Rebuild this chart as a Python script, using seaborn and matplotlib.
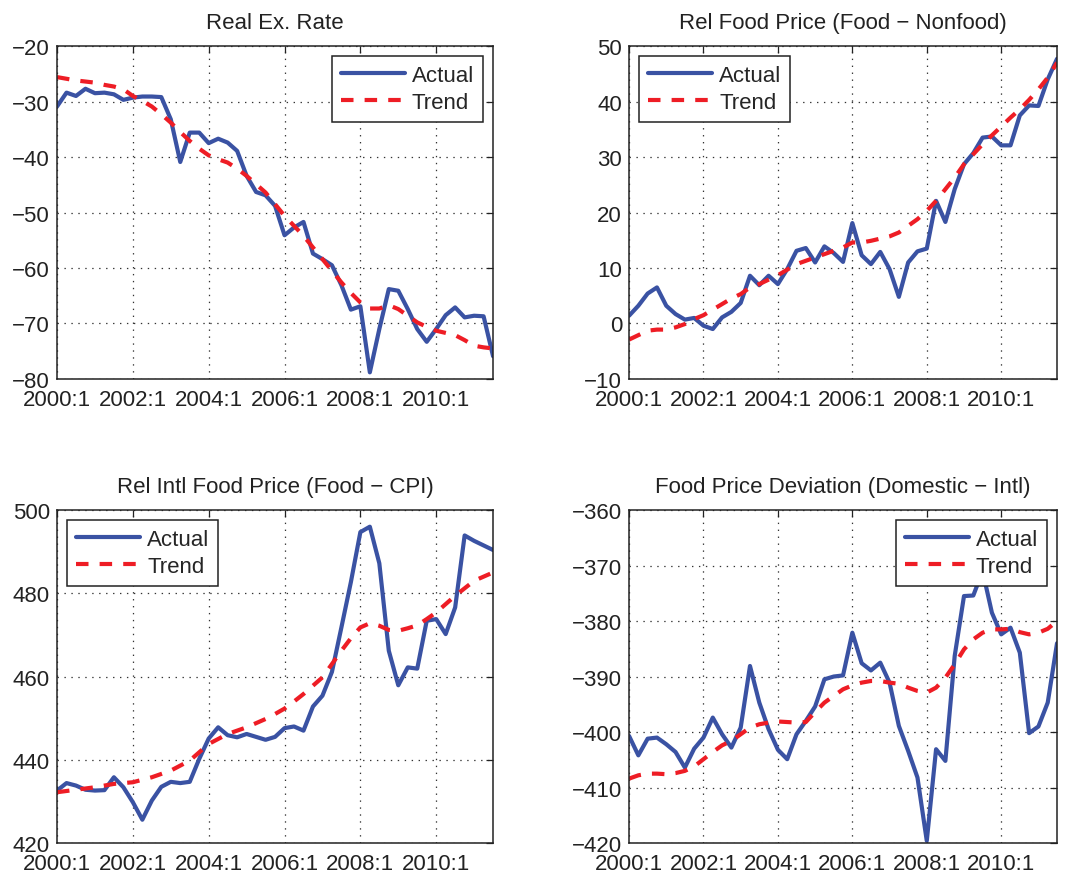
import matplotlib
matplotlib.use("Agg")
import matplotlib.pyplot as plt
import seaborn as sns
import pandas as pd

# quarterly index 2000:1 .. 2011:3
quarters = list(range(47))
tick_pos = [0, 8, 16, 24, 32, 40]
tick_labels = ["2000:1", "2002:1", "2004:1", "2006:1", "2008:1", "2010:1"]

rer_actual = [-30.9, -28.4, -29.0, -27.7, -28.5, -28.4, -28.7, -29.7, -29.3, -29.1,
              -29.1, -29.2, -33.2, -40.9, -35.6, -35.6, -37.5, -36.7, -37.4, -38.9,
              -43.4, -46.3, -46.9, -48.8, -54.1, -52.7, -51.7, -57.4, -58.4, -59.5,
              -63.1, -67.5, -66.9, -78.8, -71.0, -63.8, -64.1, -67.4, -71.0, -73.3,
              -71.0, -68.5, -67.1, -68.9, -68.6, -68.7, -75.9]
rer_trend = [-25.6, -25.9, -26.2, -26.4, -26.6, -27.0, -27.3, -27.8, -29.0, -29.9,
             -30.9, -32.3, -33.8, -35.5, -37.1, -38.5, -39.7, -40.4, -41.0, -42.1,
             -43.4, -44.9, -46.4, -48.5, -50.6, -52.4, -54.2, -56.3, -58.4, -60.5,
             -62.6, -64.5, -66.2, -67.3, -67.3, -66.7, -67.4, -68.6, -69.8, -70.6,
             -71.3, -71.7, -72.1, -73.0, -74.0, -74.3, -74.5]

food_actual = [1.4, 3.2, 5.4, 6.5, 3.2, 1.7, 0.7, 1.0, -0.4, -1.0,
               1.1, 2.1, 3.7, 8.6, 6.9, 8.6, 7.1, 9.8, 13.1, 13.6,
               11.0, 13.9, 12.7, 11.1, 18.1, 12.3, 10.7, 12.9, 9.8, 4.8,
               11.0, 13.0, 13.5, 22.1, 18.3, 24.2, 28.7, 30.7, 33.5, 33.7,
               32.1, 32.1, 37.5, 39.3, 39.2, 44.0, 47.7]
food_trend = [-2.9, -2.1, -1.3, -1.1, -1.1, -0.7, -0.1, 0.8, 1.5, 2.5,
              3.5, 4.5, 5.3, 6.5, 7.1, 7.9, 8.7, 9.7, 10.7, 11.3,
              11.9, 12.5, 13.1, 13.7, 14.6, 14.6, 14.9, 15.3, 15.7, 16.4,
              17.6, 18.8, 20.3, 22.1, 24.2, 26.3, 28.7, 30.5, 32.3, 33.9,
              35.5, 37.1, 38.6, 40.3, 42.2, 44.3, 47.0]

intl_actual = [432.6, 434.4, 433.8, 432.8, 432.6, 432.7, 435.8, 433.4, 429.8, 425.6,
               430.2, 433.5, 434.7, 434.4, 434.7, 440.2, 445.1, 447.8, 445.9, 445.4,
               446.2, 445.5, 444.8, 445.5, 447.6, 448.0, 447.0, 452.8, 455.4, 461.1,
               471.8, 482.7, 494.7, 496.0, 487.2, 466.2, 457.9, 462.2, 461.9, 473.4,
               473.8, 470.2, 476.6, 493.9, 492.6, 491.5, 490.4]
intl_trend = [432.2, 432.5, 432.8, 433.1, 433.4, 433.8, 434.2, 434.4, 434.6, 435.2,
              435.8, 436.6, 437.4, 438.6, 439.8, 441.8, 443.8, 445.0, 446.2, 447.0,
              447.8, 448.8, 449.8, 451.0, 452.3, 454.0, 455.8, 457.8, 459.8, 463.0,
              466.2, 469.2, 471.8, 472.8, 472.2, 471.2, 471.0, 471.6, 472.3, 473.8,
              475.4, 477.4, 479.4, 481.2, 483.0, 484.0, 485.0]

dev_actual = [-400.7, -404.2, -401.2, -401.0, -402.2, -403.6, -406.4, -403.0, -401.0, -397.4,
              -400.4, -402.8, -399.2, -388.1, -394.7, -399.5, -403.2, -404.9, -400.4, -398.0,
              -395.4, -390.5, -390.0, -389.8, -382.1, -387.6, -388.9, -387.5, -391.1, -398.9,
              -403.4, -408.2, -419.6, -403.1, -405.2, -386.3, -375.5, -375.4, -371.0, -378.5,
              -382.4, -381.2, -385.7, -400.2, -399.0, -394.7, -384.0]
dev_trend = [-408.4, -407.8, -407.5, -407.5, -407.6, -407.4, -407.0, -406.2, -404.9, -403.6,
             -402.4, -401.6, -400.4, -399.2, -398.6, -398.3, -398.1, -398.2, -398.3, -398.2,
             -396.4, -394.7, -393.5, -392.3, -391.6, -391.1, -390.8, -390.8, -391.1, -391.3,
             -392.0, -392.6, -392.9, -392.0, -390.2, -387.8, -385.1, -383.3, -382.1, -381.5,
             -381.5, -381.4, -382.0, -382.4, -382.1, -381.4, -380.0]

panels = [
    ("Real Ex. Rate", rer_actual, rer_trend, (-80, -20), 10, "upper right"),
    ("Rel Food Price (Food \u2212 Nonfood)", food_actual, food_trend, (-10, 50), 10, "upper left"),
    ("Rel Intl Food Price (Food \u2212 CPI)", intl_actual, intl_trend, (420, 500), 20, "upper left"),
    ("Food Price Deviation (Domestic \u2212 Intl)", dev_actual, dev_trend, (-420, -360), 10, "upper right"),
]

sns.set_theme(style="white")
plt.rcParams["font.family"] = ["Liberation Sans", "DejaVu Sans"]
plt.rcParams["lines.scale_dashes"] = False

blue = "#3a52a3"
red = "#ee1d25"
fs = 16

fig = plt.figure(figsize=(10.74, 8.79), dpi=100)
rects = [
    [0.0531, 0.5677, 0.4060, 0.3788],
    [0.5857, 0.5677, 0.3985, 0.3788],
    [0.0531, 0.0398, 0.4060, 0.3788],
    [0.5857, 0.0398, 0.3985, 0.3788],
]

for rect, (title, actual, trend, ylim, ystep, loc) in zip(rects, panels):
    ax = fig.add_axes(rect)
    df = pd.DataFrame({"q": quarters, "Actual": actual, "Trend": trend})
    sns.lineplot(data=df, x="q", y="Actual", ax=ax, color=blue, lw=3, label="Actual")
    sns.lineplot(data=df, x="q", y="Trend", ax=ax, color=red, lw=3,
                 linestyle=(0, (9, 8)), label="Trend")
    ax.set_xlim(0, 46)
    ax.set_ylim(*ylim)
    ax.set_xticks(tick_pos)
    ax.set_xticklabels(tick_labels)
    ax.set_yticks(list(range(ylim[0], ylim[1] + 1, ystep)))
    ax.set_xlabel("")
    ax.set_ylabel("")
    ax.set_title(title, fontsize=fs, pad=13, color="#222222")
    ax.grid(True, color="#333333", linestyle=(0, (1, 4)), linewidth=0.9)
    ax.tick_params(direction="in", length=5, width=0.9, labelsize=fs, top=True, right=True,
                   colors="#222222", pad=5)
    ax.tick_params(axis="x", pad=7)
    for s in ax.spines.values():
        s.set_color("#222222")
        s.set_linewidth(1.1)
    leg = ax.legend(loc=loc, fontsize=fs, fancybox=False, edgecolor="#222222", framealpha=1,
                    handlelength=2.9, borderaxespad=0.45, borderpad=0.4, labelspacing=0.28,
                    handletextpad=0.3)
    leg.get_frame().set_linewidth(1.1)

fig.savefig("out.png", dpi=100)
